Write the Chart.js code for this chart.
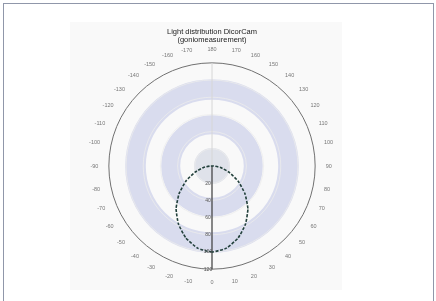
<!DOCTYPE html>
<html>
<head>
<meta charset="utf-8">
<script src="https://cdn.jsdelivr.net/npm/chart.js@4"></script>
<style>
  html, body { margin: 0; padding: 0; background: #fff; }
  #frame { position: absolute; left: 3px; top: 3px; width: 429px; height: 320px; border: 1px solid #9097aa; border-bottom: none; }
  #plotBg { position: absolute; left: 70px; top: 22px; width: 272px; height: 268px; background: #f9f9f9; }
  #wrap { position: absolute; left: 0; top: 0; width: 436px; height: 301px; }
</style>
</head>
<body>
<div id="frame"></div>
<div id="plotBg"></div>
<div id="wrap"><canvas id="polar"></canvas></div>
<script>
  // angle labels, clockwise from the bottom (0 deg)
  const angleLabels = ['0','-10','-20','-30','-40','-50','-60','-70','-80','-90',
    '-100','-110','-120','-130','-140','-150','-160','-170','180',
    '170','160','150','140','130','120','110','100','90','80','70','60','50','40','30','20','10'];

  // measured intensity (%) per angle label
  const intensity = [100, 97, 89, 78, 65, 50, 35, 21, 10, 2,
    0, 0, 0, 0, 0, 0, 0, 0, 0,
    0, 0, 0, 0, 0, 0, 0, 0, 2, 10, 21, 35, 50, 65, 78, 89, 97];

  const radialTicks = [0, 20, 40, 60, 80, 100, 120];

  // watermark rings behind the plot, in scale units [inner, outer, colour]
  const bandRanges = [[0, 21, '#dfe2ea'], [37, 59, '#d9dcee'], [77, 101, '#d9dcee']];

  const ringsPlugin = {
    id: 'rings',
    beforeDraw(chart) {
      const r = chart.scales.r;
      const c = chart.ctx;
      c.save();
      bandRanges.forEach(([a, b, col]) => {
        const ri = r.getDistanceFromCenterForValue(a);
        const ro = r.getDistanceFromCenterForValue(b);
        c.beginPath();
        c.arc(r.xCenter, r.yCenter, ro, 0, Math.PI * 2);
        if (ri > 0) c.arc(r.xCenter, r.yCenter, ri, 0, Math.PI * 2, true);
        c.fillStyle = col;
        c.fill('evenodd');
      });
      c.restore();
    },
    // radial tick labels, upright, along the 0 deg axis (downwards)
    afterDraw(chart) {
      const r = chart.scales.r;
      const c = chart.ctx;
      c.save();
      c.fillStyle = '#555';
      c.font = '5px "Liberation Sans"';
      c.textAlign = 'center';
      c.textBaseline = 'middle';
      radialTicks.forEach(v => {
        if (v === 0) return;
        c.fillText(String(v), r.xCenter - 4, r.yCenter + r.getDistanceFromCenterForValue(v));
      });
      c.restore();
    }
  };

  new Chart(document.getElementById('polar'), {
    type: 'radar',
    data: {
      labels: angleLabels,
      datasets: [{
        data: intensity,
        borderColor: '#22403b',
        borderWidth: 1.6,
        borderDash: [3, 1.5],
        fill: false,
        pointRadius: 0,
        tension: 0.15
      }]
    },
    options: {
      responsive: true,
      maintainAspectRatio: false,
      animation: false,
      layout: { padding: { top: 0, bottom: 13, left: 0, right: 12 } },
      plugins: {
        legend: { display: false },
        tooltip: { enabled: false },
        title: {
          display: true,
          text: ['Light distribution DicorCam', '(goniomeasurement)'],
          color: '#222',
          font: { family: 'Liberation Sans', size: 7.5, weight: 'normal', lineHeight: 1.05 },
          padding: { top: 28, bottom: 2 }
        }
      },
      scales: {
        r: {
          min: 0,
          max: 120,
          startAngle: 180,
          afterBuildTicks: s => { s.ticks = radialTicks.map(v => ({ value: v })); },
          grid: {
            circular: true,
            color: ctx => ctx.tick && ctx.tick.value === 120 ? '#707070' : '#ececec',
            lineWidth: ctx => ctx.tick && ctx.tick.value === 120 ? 1 : 0.8
          },
          angleLines: {
            color: ctx => ctx.index === 0 ? '#3a3a3a' : (ctx.index === 18 ? '#d6d6d6' : 'rgba(0,0,0,0)'),
            lineWidth: ctx => ctx.index === 0 ? 1.2 : 1
          },
          ticks: {
            showLabelBackdrop: false,
            color: 'rgba(0,0,0,0)',
            font: { family: 'Liberation Sans', size: 5 }
          },
          pointLabels: {
            color: '#777',
            padding: 6,
            font: { family: 'Liberation Sans', size: 5.5 }
          }
        }
      }
    },
    plugins: [ringsPlugin]
  });
</script>
</body>
</html>
